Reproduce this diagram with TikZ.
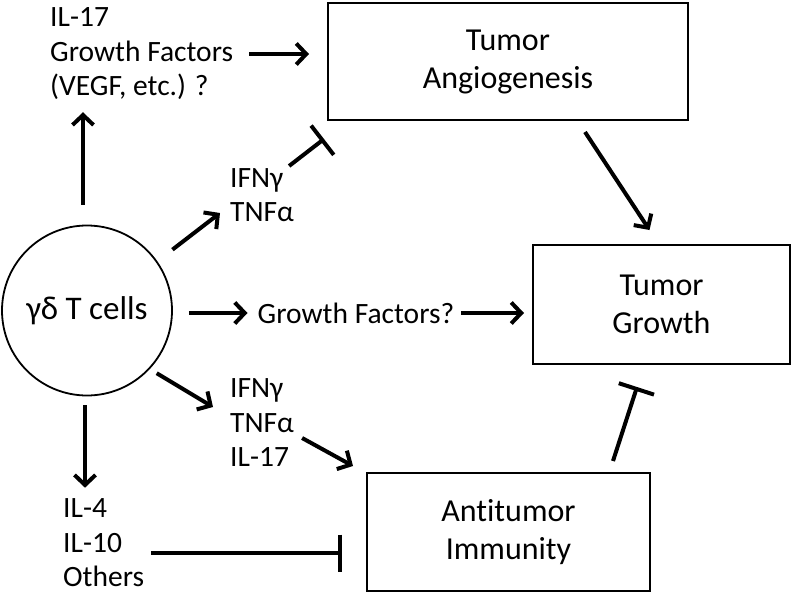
\documentclass[tikz,border=0pt]{standalone}
\usepackage{fontspec}
\usepackage{tikz}
\setmainfont{Carlito}[Ligatures = NoCommon]
\usetikzlibrary{arrows.meta}
\tikzset{box/.style = {draw, line width = 2pt, rectangle, inner sep = 0, align = center,
                       font = \fontsize{32}{38}\selectfont}}
\tikzset{lbl/.style = {inner sep = 0, align = left, font = \fontsize{29.5}{34.5}\selectfont}}
\tikzset{arr/.style = {-{Straight Barb[length = 10pt, width = 21pt]}, line width = 4pt}}
\tikzset{inh/.style = {-{Bar[width = 37pt]}, line width = 4pt}}

\begin{document}
\begin{tikzpicture}[x = 1pt, y = -1pt]
        \useasboundingbox (0, 0) rectangle (792, 594);
        \node [box, minimum width = 360pt, minimum height = 117pt] (angio) at (508, 61.5) {Tumor\\Angiogenesis};
        \node [box, minimum width = 257pt, minimum height = 119pt] (growth) at (661.5, 304.5) {Tumor\\Growth};
        \node [box, minimum width = 283pt, minimum height = 118pt] (anti) at (508.5, 532) {Antitumor\\Immunity};
        \node [draw, circle, line width = 1.8pt, inner sep = 0, minimum size = 170pt,
               font = \fontsize{33}{38}\selectfont] (cells) at (87, 310.5) {γδ T cells};

        \node [lbl, anchor = west] (il17up) at (50, 54) {IL-17\\Growth Factors\\(VEGF, etc.) ?};
        \node [lbl, anchor = west] (ifnUp) at (230, 195) {IFNγ\\TNFα};
        \node [lbl] (gf) at (356, 313) {Growth Factors?};
        \node [lbl, anchor = west] (ifnDown) at (230, 423) {IFNγ\\TNFα\\IL-17};
        \node [lbl, anchor = west] (il4) at (63, 543) {IL-4\\IL-10\\Others};

        \draw [arr, shorten <= 20pt, shorten >= 12pt] ([xshift = -4pt]cells.north) -- ([xshift = -4pt]cells.north |- il17up.south);
        \draw [arr, shorten <= 16pt, shorten >= 18pt] (il17up.east) -- (il17up.east -| angio.west);
        \draw [arr, shorten <= 19pt] (cells.35) -- ([shift = {(-10, 18)}]ifnUp.west);
        \draw [inh] ([shift = {(-5, -2)}]ifnUp.north east) -- ([shift = {(-3, 18)}]angio.south west);
        \draw [arr, shorten <= 16pt, shorten >= 10pt] (gf.west -| cells.east) -- (gf.west);
        \draw [arr, shorten <= 7pt, shorten >= 8pt] (gf.east) -- (gf.east -| growth.west);
        \draw [arr, shorten <= 8pt] (cells.-43) -- ([shift = {(-17, -16)}]ifnDown.west);
        \draw [arr] ([shift = {(8, 15)}]ifnDown.east) -- ([shift = {(-13, -6)}]anti.north west);
        \draw [arr, shorten <= 9pt, shorten >= 11pt] ([xshift = -2pt]cells.south) -- ([xshift = -2pt]cells.south |- il4.north);
        \draw [inh, shorten <= 7pt, shorten >= 24pt] ([yshift = -10pt]il4.east) -- ([yshift = -10pt]il4.east -| anti.west);
        \draw [inh] ([shift = {(-38, -11)}]anti.north east) -- ([shift = {(105, 22)}]growth.south west);
        \draw [arr] ([shift = {(77, 11)}]angio.south) -- ([shift = {(-12, -14)}]growth.north);
      \end{tikzpicture}
\end{document}
